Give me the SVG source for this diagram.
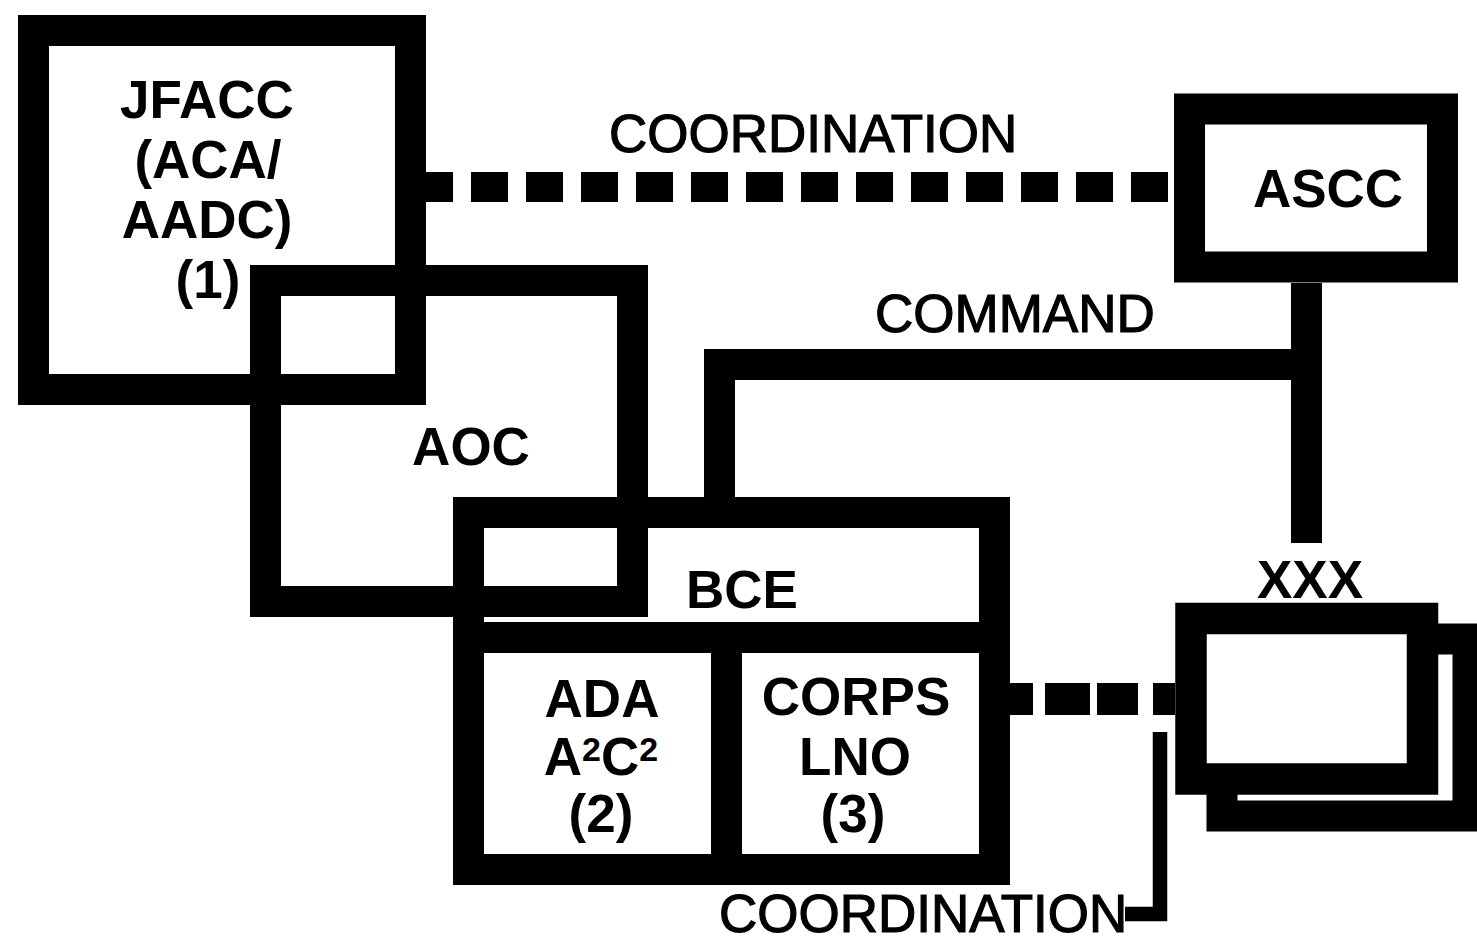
<svg xmlns="http://www.w3.org/2000/svg" width="1477" height="944" viewBox="0 0 1477 944">
<style>
.box{fill:none;stroke:#000;stroke-linejoin:miter}
.ln{fill:none;stroke:#000;stroke-linecap:butt;stroke-linejoin:miter}
.lb{font-family:"Liberation Sans",Arial,sans-serif;font-weight:bold;font-size:53px;fill:#000;text-anchor:middle}
.cl{font-family:"Liberation Sans",Arial,sans-serif;font-size:53px;fill:#000;stroke:#000;stroke-width:1.2}
</style>
<rect width="1477" height="944" fill="#fff"/>
<g id="node-jfacc">
<rect class="box" x="33.5" y="30.5" width="377" height="359" stroke-width="31"/>
<text class="lb" x="207" y="118">JFACC</text>
<text class="lb" x="208" y="178">(ACA/</text>
<text class="lb" x="207" y="238">AADC)</text>
<text class="lb" x="208" y="298">(1)</text>
</g>
<g id="node-aoc">
<rect class="box" x="265.5" y="280.5" width="367" height="321" stroke-width="31"/>
<text class="lb" x="471" y="465">AOC</text>
</g>
<g id="node-bce">
<rect class="box" x="468.5" y="512.5" width="526" height="357" stroke-width="31"/>
<line class="ln" x1="484" y1="637.5" x2="979" y2="637.5" stroke-width="31"/>
<line class="ln" x1="726.5" y1="640" x2="726.5" y2="860" stroke-width="31"/>
<text class="lb" x="742" y="608">BCE</text>
</g>
<g id="node-ada">
<text class="lb" x="602" y="717">ADA</text>
<text class="lb" x="601" y="775">A<tspan font-size="34" dy="-14">2</tspan><tspan dy="14">C</tspan><tspan font-size="34" dy="-14">2</tspan></text>
<text class="lb" x="601" y="832">(2)</text>
</g>
<g id="node-corps">
<text class="lb" x="856" y="715">CORPS</text>
<text class="lb" x="855" y="775">LNO</text>
<text class="lb" x="853" y="832">(3)</text>
</g>
<g id="node-ascc">
<rect class="box" x="1189.5" y="109" width="253" height="158" stroke-width="31"/>
<text class="lb" x="1328" y="207">ASCC</text>
</g>
<g id="node-xxx">
<rect class="box" x="1222" y="639" width="246" height="177" stroke-width="31"/>
<rect x="1191" y="618.5" width="231.5" height="160.5" fill="#fff" stroke="#000" stroke-width="31.5"/>
<text class="lb" x="1310" y="598">XXX</text>
</g>
<g id="connectors">
<line class="ln" x1="426" y1="187" x2="1175" y2="187" stroke-width="30" stroke-dasharray="37 18" stroke-dashoffset="10"/>
<path class="ln" d="M719.5 497 V364.5 H1322" stroke-width="31"/>
<line class="ln" x1="1306.5" y1="283" x2="1306.5" y2="543" stroke-width="31"/>
<line class="ln" x1="1010" y1="699" x2="1175" y2="699" stroke-width="32" stroke-dasharray="23 12 45 7 41 15 22 10"/>
<path class="ln" d="M1160 732 V914 H1125" stroke-width="14.5"/>
</g>
<g id="labels">
<text class="cl" x="609" y="152">COORDINATION</text>
<text class="cl" x="875" y="332">COMMAND</text>
<text class="cl" x="719" y="932">COORDINATION</text>
</g>
</svg>
